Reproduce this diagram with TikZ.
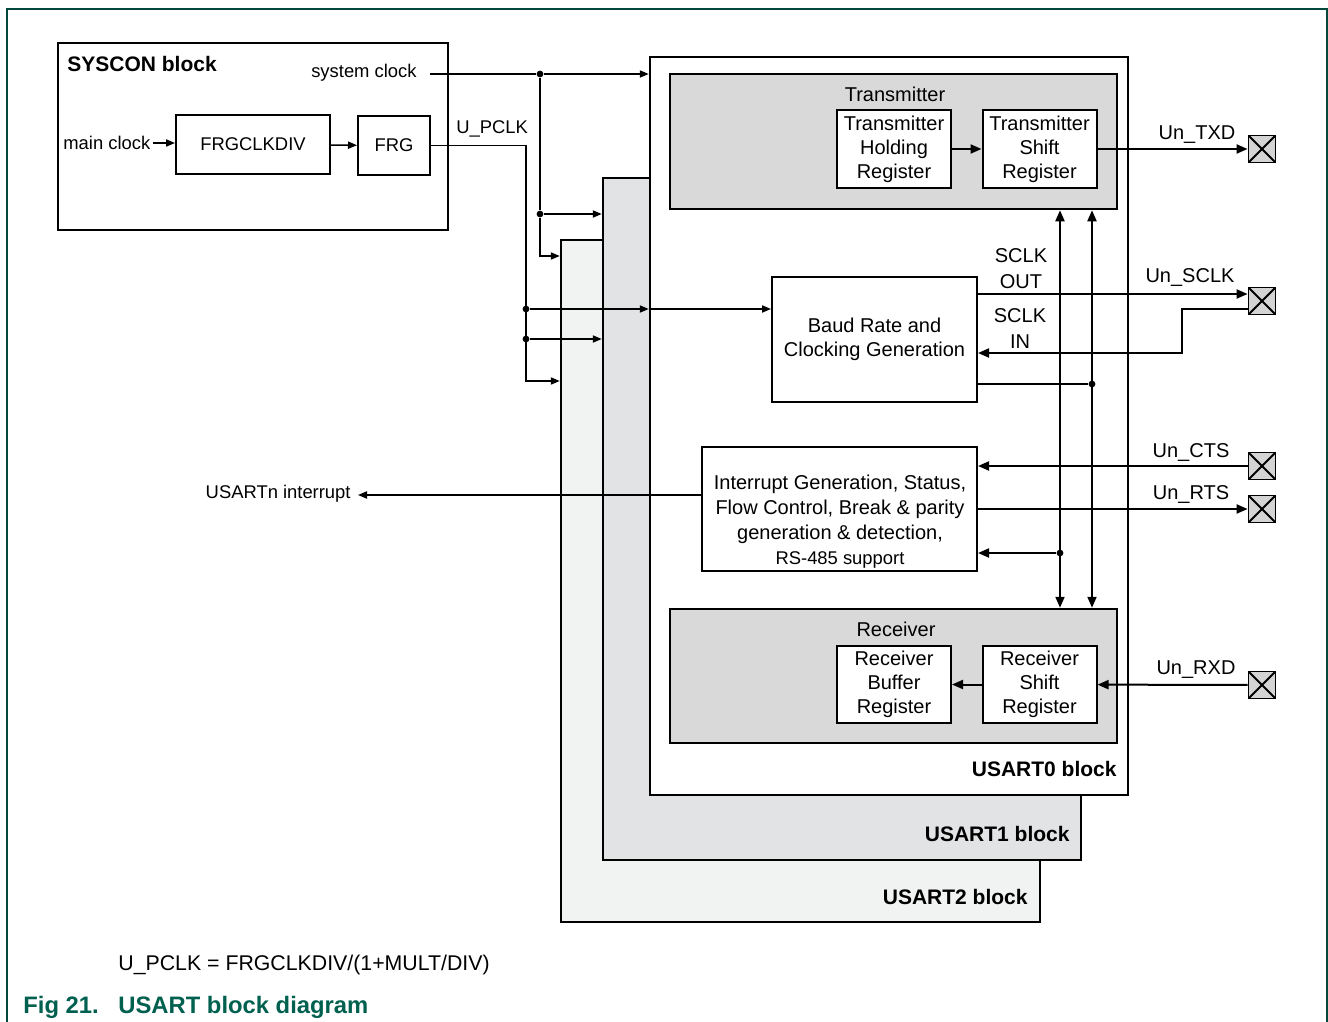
\documentclass[tikz,border=0pt]{standalone}
\usepackage{fontspec}
\setmainfont{Liberation Sans}
\usetikzlibrary{arrows.meta}
\definecolor{nxpgreen}{RGB}{0,96,80}
\definecolor{framegreen}{RGB}{0,72,60}
\definecolor{grpgray}{RGB}{217,217,217}
\definecolor{usartone}{RGB}{226,227,228}
\definecolor{usarttwo}{RGB}{241,242,242}
\definecolor{padgray}{RGB}{212,212,212}

\begin{document}
\begin{tikzpicture}
            [x=0.5pt,y=-0.5pt,
             txt/.style={inner sep=0pt,font=\fontsize{10}{12.5}\selectfont},
             sml/.style={inner sep=0pt,font=\fontsize{9.2}{11}\selectfont},
             bold/.style={inner sep=0pt,font=\fontsize{10.5}{12}\selectfont\bfseries},
             blk/.style={draw,line width=1.25pt,inner sep=0pt},
             reg/.style={draw,fill=white,line width=1pt,inner sep=0pt,align=center,
               minimum width=57pt,minimum height=39pt,font=\fontsize{10}{12}\selectfont},
             pad/.style={draw,fill=padgray,line width=0.9pt,minimum size=13.5pt,inner sep=0pt,
               path picture={\draw[line width=0.9pt]
                 (path picture bounding box.north west) -- (path picture bounding box.south east)
                 (path picture bounding box.north east) -- (path picture bounding box.south west);}},
             sig/.style={line width=1pt,-{Triangle[length=5.5pt,width=4.5pt]}},
             dsig/.style={line width=1pt,{Triangle[length=5.5pt,width=4.5pt]}-{Triangle[length=5.5pt,width=4.5pt]}},
             clk/.style={line width=0.7pt,-{Triangle[length=4.5pt,width=3.6pt]}},
             dot/.style={circle,fill,inner sep=0pt,minimum size=3.4pt}]
            \useasboundingbox (0,0) rectangle (1328,1022);
            \draw[framegreen,line width=0.7pt] (7,1022) -- (7,9) -- (1327,9) -- (1327,1022);

            % syscon side
            \node[blk,minimum width=195pt,minimum height=93.5pt] (syscon) at (253,136.5) {};
            \node[bold,anchor=west] (sysconlbl) at (67,64) {SYSCON block};
            \node[blk,line width=1pt,minimum width=77pt,minimum height=29.5pt,font=\fontsize{9.2}{11}\selectfont] (frgdiv) at (253,144.5) {FRGCLKDIV};
            \node[blk,line width=1pt,minimum width=36pt,minimum height=29.5pt,font=\fontsize{9.2}{11}\selectfont] (frg) at (394,145.5) {FRG};
            \node[sml,anchor=west] (mainclk) at (63,143) {main clock};
            \node[sml,anchor=east] (sysclk) at (417,73) {system clock};
            \node[sml,anchor=west] (pclklbl) at (456,129) {U\_PCLK};

            % the three usart blocks
            \node[blk,fill=usarttwo,minimum width=239.5pt,minimum height=341pt] (usart2) at (800.5,581) {};
            \node[blk,fill=usartone,minimum width=239pt,minimum height=341pt] (usart1) at (842,519) {};
            \node[blk,fill=white,minimum width=239pt,minimum height=369pt] (usart0) at (889,426) {};
            \node[bold,anchor=east] (u2lbl) at (1028,897) {USART2 block};
            \node[bold,anchor=east] (u1lbl) at (1070,834) {USART1 block};
            \node[bold,anchor=east] (u0lbl) at (1117,769) {USART0 block};

            % transmitter and receiver
            \node[blk,fill=grpgray,minimum width=223.5pt,minimum height=67.5pt] (tx) at (893.5,141.5) {};
            \node[txt] (txlbl) at (895,94) {Transmitter};
            \node[reg] (thr) at (894,149) {Transmitter\\Holding\\Register};
            \node[reg] (tsr) at (1039.5,149) {Transmitter\\Shift\\Register};
            \node[blk,fill=grpgray,minimum width=223.5pt,minimum height=67pt] (rx) at (893.5,676) {};
            \node[txt] (rxlbl) at (896,629) {Receiver};
            \node[reg,minimum height=38.5pt] (rbr) at (894,684.5) {Receiver\\Buffer\\Register};
            \node[reg,minimum height=38.5pt] (rsr) at (1039.5,684.5) {Receiver\\Shift\\Register};

            \node[blk,line width=1pt,minimum width=102.5pt,minimum height=62.5pt,align=center,font=\fontsize{10}{12}\selectfont] (baud) at (874.5,339.5) {Baud Rate and\\Clocking Generation};
            \node[blk,line width=1pt,minimum width=137.5pt,minimum height=62pt] (intr) at (839.5,509) {};
            \node[txt,align=center] (intrtxt) at (840,522) {Interrupt Generation, Status,\\Flow Control, Break \& parity\\generation \& detection,\\{\fontsize{9.2}{11}\selectfont RS-485 support}};

            % pins
            \node[pad] (padtxd) at (1262,149) {};
            \node[pad] (padsclk) at (1262,301) {};
            \node[pad] (padcts) at (1262,466) {};
            \node[pad] (padrts) at (1262,509) {};
            \node[pad] (padrxd) at (1262,685) {};
            \node[txt] (txdlbl) at (1197,135) {Un\_TXD};
            \node[txt] (sclklbl) at (1190,278) {Un\_SCLK};
            \node[txt] (ctslbl) at (1191,453) {Un\_CTS};
            \node[txt] (rtslbl) at (1191,495) {Un\_RTS};
            \node[txt] (rxdlbl) at (1196,670) {Un\_RXD};
            \node[txt,align=center,font=\fontsize{10}{13}\selectfont] (sclkolbl) at (1021,269) {SCLK\\OUT};
            \node[txt,align=center,font=\fontsize{10}{13}\selectfont] (sclkilbl) at (1020,329) {SCLK\\IN};

            % clocks into the blocks
            \coordinate (sysout) at (430,74);
            \node[dot] (sysA) at (540,74) {};
            \node[dot] (sysB) at (540,214) {};
            \coordinate (sysC) at (540,256);
            \coordinate (pclkA) at (526,145.5);
            \node[dot] (pclkB) at (526,309) {};
            \node[dot] (pclkC) at (526,339) {};
            \coordinate (pclkD) at (526,381);
            \draw[clk,shorten <=1pt] (mainclk.east) -- (frgdiv.west |- mainclk.east);
            \draw[clk] (frgdiv) -- (frg);
            \draw[clk] (sysout) -- (sysA) -- (usart0.west |- sysA);
            \draw[clk] (sysA) -- (sysB) -- (usart1.west |- sysB);
            \draw[clk] (sysB) -- (sysC) -- (usart2.west |- sysC);
            \draw[clk] (frg.east) -- (pclkA) -- (pclkD) -- (usart2.west |- pclkD);
            \draw[clk] (pclkB) -- (usart0.west |- pclkB);
            \draw[clk] (usart0.west |- pclkB) -- (baud.west |- pclkB);
            \draw[clk] (pclkC) -- (usart1.west |- pclkC);

            % data paths
            \coordinate (laneO) at (1150,294);
            \coordinate (laneI) at (1182,309);
            \coordinate (laneIb) at (1182,353);
            \node[dot] (bclk) at (1092,384) {};
            \node[dot] (idot) at (1060,553) {};
            \coordinate (irq) at (358,495);
            \node[sml,anchor=east] (irqlbl) at (351,494) {USARTn interrupt};
            \draw[sig] (thr) -- (tsr);
            \draw[sig] (tsr) -- (padtxd);
            \draw[sig] (baud.east |- laneO) -- (padsclk.west |- laneO);
            \draw[sig] (padsclk.west |- laneI) -- (laneI) -- (laneIb) -- (baud.east |- laneIb);
            \draw[line width=1pt] (baud.east |- bclk) -- (bclk);
            \draw[dsig] (tx.south -| idot) -- (rx.north -| idot);
            \draw[dsig] (tx.south -| bclk) -- (rx.north -| bclk);
            \draw[sig] (idot) -- (intr.east |- idot);
            \draw[sig] (padcts) -- (intr.east |- padcts);
            \draw[sig] (intr.east |- padrts) -- (padrts);
            \draw[clk] (intr.west |- irq) -- (irq);
            \draw[sig] (padrxd) -- (rsr);
            \draw[sig] (rsr) -- (rbr);

            % formula and caption
            \node[inner sep=0pt,anchor=west,font=\fontsize{10.65}{12}\selectfont] (formula) at (118,965) {U\_PCLK = FRGCLKDIV/(1+MULT/DIV)};
            \node[inner sep=0pt,anchor=west,text=nxpgreen,font=\fontsize{11.9}{13}\selectfont\bfseries] (fignum) at (23,1007) {Fig 21.};
            \node[inner sep=0pt,anchor=west,text=nxpgreen,font=\fontsize{11.9}{13}\selectfont\bfseries] (figtitle) at (118,1007) {USART block diagram};
        \end{tikzpicture}
\end{document}
